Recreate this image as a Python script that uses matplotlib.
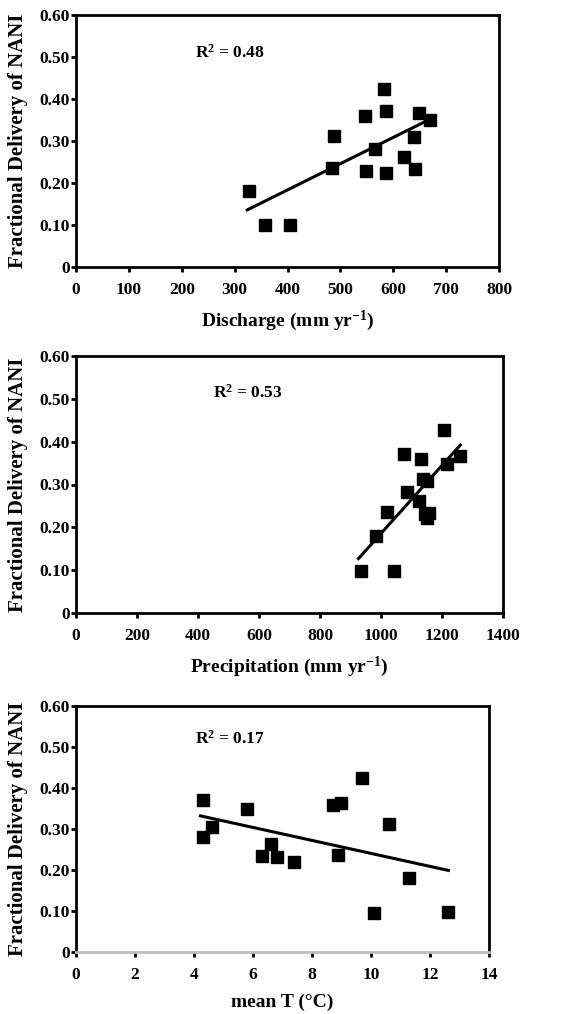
import matplotlib
matplotlib.use('Agg')
import matplotlib.pyplot as plt
from matplotlib.ticker import FuncFormatter

plt.rcParams['font.family'] = 'Liberation Serif'
plt.rcParams['font.weight'] = 'bold'
plt.rcParams['mathtext.fontset'] = 'custom'
plt.rcParams['mathtext.rm'] = 'Liberation Serif:bold'
plt.rcParams['mathtext.it'] = 'Liberation Serif:bold'
plt.rcParams['mathtext.bf'] = 'Liberation Serif:bold'

# fractional delivery of NANI per watershed
discharge = [327, 358, 405, 488, 485, 546, 548, 565, 582, 586, 587, 621, 640, 641, 649, 670]
frac_q = [0.180, 0.100, 0.100, 0.312, 0.235, 0.360, 0.228, 0.281, 0.425, 0.372, 0.223, 0.261, 0.310, 0.233, 0.366, 0.349]
fit_q_x = [324, 660]
fit_q_y = [0.136, 0.346]

precip = [934, 1044, 983, 1020, 1074, 1085, 1131, 1125, 1137, 1150, 1143, 1158, 1150, 1206, 1216, 1260]
frac_p = [0.099, 0.099, 0.179, 0.235, 0.371, 0.282, 0.359, 0.262, 0.313, 0.309, 0.231, 0.234, 0.222, 0.427, 0.349, 0.367]
fit_p_x = [926, 1260]
fit_p_y = [0.127, 0.392]

mean_t = [4.30, 4.30, 4.60, 5.78, 6.31, 6.60, 6.80, 7.40, 8.70, 9.00, 8.89, 9.71, 10.6, 11.29, 10.11, 12.6]
frac_t = [0.370, 0.280, 0.306, 0.348, 0.234, 0.263, 0.232, 0.219, 0.358, 0.363, 0.237, 0.424, 0.311, 0.180, 0.095, 0.097]
fit_t_x = [4.22, 12.62]
fit_t_y = [0.332, 0.199]

y_ticks = [0, 0.1, 0.2, 0.3, 0.4, 0.5, 0.6]

fig = plt.figure(figsize=(5.66, 10.14), dpi=100)
W, H = 566, 1014

def box(l, r, t, b):
    return [l / W, 1 - b / H, (r - l) / W, (b - t) / H]

panels = [
    (box(76, 499, 15, 267), discharge, frac_q, fit_q_x, fit_q_y, (0, 800), range(0, 801, 100),
     'Discharge (mm yr$^{-1}$)', 'R$^{2}$ = 0.48', 225, 0.509),
    (box(76, 503, 356, 613), precip, frac_p, fit_p_x, fit_p_y, (0, 1400), range(0, 1401, 200),
     'Precipitation (mm yr$^{-1}$)', 'R$^{2}$ = 0.53', 450, 0.514),
    (box(76, 489, 706, 952), mean_t, frac_t, fit_t_x, fit_t_y, (0, 14), range(0, 15, 2),
     'mean T (°C)', 'R$^{2}$ = 0.17', 4.03, 0.52),
]

for i, (rect, x, y, fx, fy, xlim, xt, xlabel, r2, tx, ty) in enumerate(panels):
    ax = fig.add_axes(rect)
    ax.plot(x, y, 's', color='black', markersize=8.5, zorder=3)
    ax.plot(fx, fy, color='black', linewidth=2.2, zorder=2)
    ax.set_xlim(*xlim)
    ax.set_ylim(0, 0.6)
    ax.set_xticks(list(xt))
    ax.set_yticks(y_ticks)
    ax.yaxis.set_major_formatter(FuncFormatter(lambda v, p: '0' if v == 0 else '%.2f' % v))
    ax.tick_params(direction='out', length=3.5, width=2, labelsize=12.5)
    ax.tick_params(axis='x', pad=7)
    ax.tick_params(axis='y', pad=1)
    for s in ax.spines.values():
        s.set_linewidth(2)
    if i == 2:
        ax.spines['bottom'].set_color('#bdbdbd')
    ax.set_xlabel(xlabel, fontsize=14, fontweight='bold', labelpad=8)
    ax.set_ylabel('Fractional Delivery of NANI', fontsize=15, fontweight='bold', labelpad=8)
    ax.text(tx, ty, r2, fontsize=12.5, fontweight='bold', va='center', ha='left')
    for lab in ax.get_xticklabels() + ax.get_yticklabels():
        lab.set_fontweight('bold')

fig.savefig('out.png', dpi=100)
